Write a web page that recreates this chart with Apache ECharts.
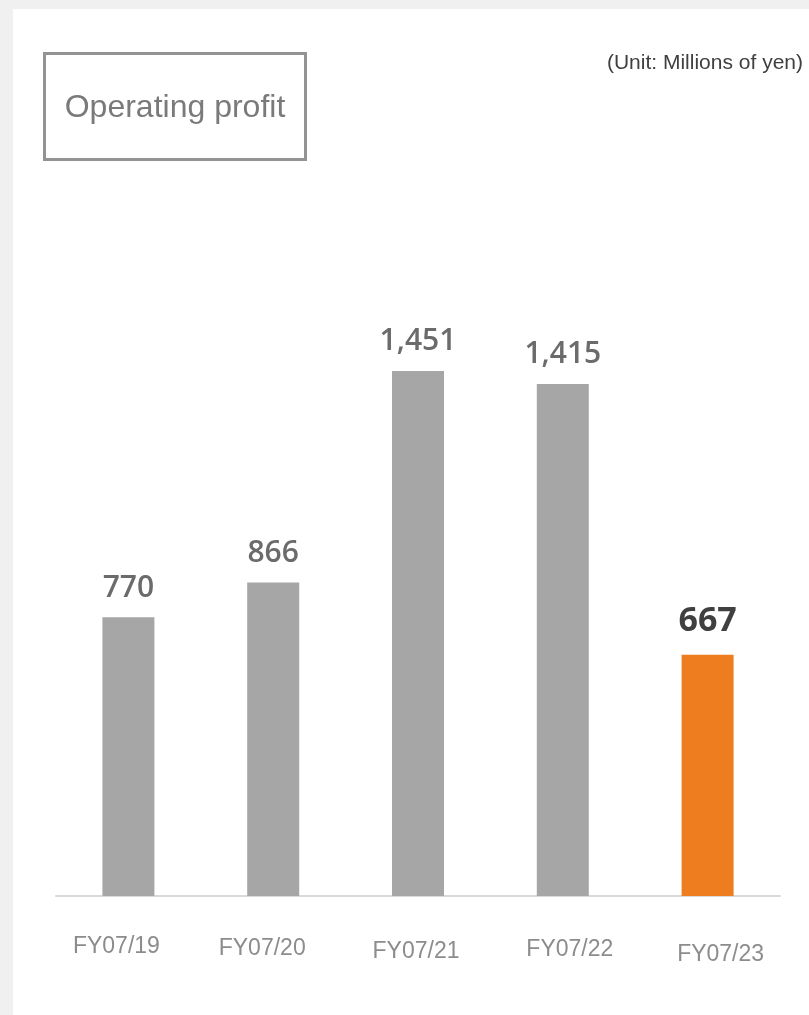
<!DOCTYPE html>
<html lang="en">
<head>
<meta charset="utf-8">
<title>Operating profit</title>
<style>
    html, body {
        margin: 0;
        padding: 0;
        background-color: #f0f0f0;
    }
</style>
</head>
<body>
<div id="main" style="width: 809px;height:1015px;"></div>
<script src="https://cdn.jsdelivr.net/npm/echarts@6/dist/echarts.min.js"></script>
<script>
    var categories = ['FY07/19', 'FY07/20', 'FY07/21', 'FY07/22', 'FY07/23'];
    var profit = [770, 866, 1451, 1415, 667];
    var highlightIndex = 4;

    var chart = echarts.init(document.getElementById('main'));

    // nudges for the hand-placed year labels [dx, dy]
    var labelShift = [[-12, 0], [-11, 2], [-2, 5], [7, 3], [13, 8]];

    var rich = {};
    labelShift.forEach(function (s, i) {
        var dx = s[0], dy = s[1];
        rich['c' + i] = {
            fontFamily: 'Liberation Sans',
            fontSize: 23,
            color: '#8c8c8c',
            padding: [dy, dx < 0 ? -2 * dx : 0, 0, dx > 0 ? 2 * dx : 0]
        };
    });

    function withComma(v) {
        return String(v).replace(/\B(?=(\d{3})+(?!\d))/g, ',');
    }

    var barData = profit.map(function (v, i) {
        if (i === highlightIndex) {
            return {
                value: v,
                itemStyle: { color: '#ee7d1f' },
                label: { fontSize: 34, fontWeight: 'bold', color: '#404040', distance: 16 }
            };
        }
        return v;
    });

    var option = {
        animation: false,
        backgroundColor: 'transparent',
        graphic: [
            {
                type: 'rect',
                z: -10,
                shape: { x: 13, y: 9, width: 796, height: 1006 },
                style: { fill: '#ffffff' }
            },
            {
                type: 'rect',
                shape: { x: 44.5, y: 53.5, width: 261, height: 106 },
                style: { fill: '#ffffff', stroke: '#939393', lineWidth: 3 }
            },
            {
                type: 'text',
                x: 175,
                y: 108,
                style: {
                    text: 'Operating profit',
                    fontFamily: 'Liberation Sans',
                    fontSize: 32,
                    fill: '#7a7a7a',
                    align: 'center',
                    verticalAlign: 'middle'
                }
            },
            {
                type: 'text',
                x: 803,
                y: 63,
                style: {
                    text: '(Unit: Millions of yen)',
                    fontFamily: 'Liberation Sans',
                    fontSize: 21,
                    fill: '#404040',
                    align: 'right',
                    verticalAlign: 'middle'
                }
            }
        ],
        grid: {
            left: 56,
            width: 724,
            top: 317,
            height: 579
        },
        xAxis: {
            type: 'category',
            data: categories,
            axisTick: { show: false },
            axisLine: {
                lineStyle: { color: '#d9d9d9', width: 2 }
            },
            axisLabel: {
                margin: 39,
                formatter: function (value, index) {
                    return '{c' + index + '|' + value + '}';
                },
                rich: rich
            }
        },
        yAxis: {
            type: 'value',
            min: 0,
            max: 1600,
            show: false,
            splitLine: { show: false }
        },
        series: [{
            name: 'Operating profit',
            type: 'bar',
            barWidth: 52,
            data: barData,
            itemStyle: { color: '#a6a6a6' },
            label: {
                show: true,
                position: 'top',
                distance: 14,
                fontFamily: 'Open Sans',
                fontSize: 30,
                fontWeight: 600,
                color: '#6b6b6b',
                formatter: function (p) {
                    return withComma(p.value);
                }
            }
        }]
    };

    chart.setOption(option);
</script>
</body>
</html>
